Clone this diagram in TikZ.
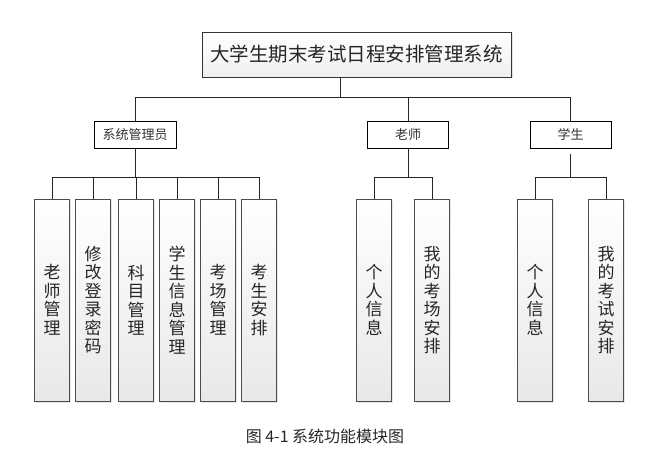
\documentclass[tikz,border=0pt]{standalone}
\usepackage{fontspec}
\newfontfamily\cjk{Noto Sans CJK SC}
\usetikzlibrary{shadows}

\tikzset{
  topbox/.style={draw=black!80, line width=0.8pt, top color=white, bottom color=gray!12,
    drop shadow={shadow xshift=1.5pt, shadow yshift=-1.5pt, fill=gray!45},
    minimum width=309pt, minimum height=45pt, inner sep=0pt,
    font=\cjk\fontsize{19.5}{22}\selectfont, text=black!85},
  rolebox/.style={draw=black, line width=0.7pt, fill=white,
    minimum width=81pt, minimum height=27pt, inner sep=0pt,
    font=\cjk\fontsize{13}{15}\selectfont, text=black!80},
  leafbox/.style={draw=black!70, line width=0.8pt, top color=white, bottom color=gray!18,
    drop shadow={shadow xshift=1.5pt, shadow yshift=-1.5pt, fill=gray!40},
    minimum width=35pt, minimum height=202pt, inner sep=0pt, align=center,
    font=\cjk\fontsize{17}{18.5}\selectfont, text=black!85},
  wire/.style={draw=black!85, line width=0.8pt}
}

\begin{document}
\begin{tikzpicture}[x=1pt, y=-1pt]
    \useasboundingbox (0,0) rectangle (654,460);

    % Top
    \node[topbox] (sys) at (356.5,54.5) {大学生期末考试日程安排管理系统};

    % Roles
    \node[rolebox, minimum width=82pt] (admin) at (135,134.5) {系统管理员};
    \node[rolebox] (teacher) at (408,134.5) {老师};
    \node[rolebox] (student) at (570.5,134.5) {学生};

    % Leaves: admin
    \node[leafbox] (a1) at (52,300)  {老\\师\\管\\理};
    \node[leafbox] (a2) at (93,300)  {修\\改\\登\\录\\密\\码};
    \node[leafbox] (a3) at (136,300) {科\\目\\管\\理};
    \node[leafbox] (a4) at (177,300) {学\\生\\信\\息\\管\\理};
    \node[leafbox] (a5) at (218,300) {考\\场\\管\\理};
    \node[leafbox] (a6) at (259,300) {考\\生\\安\\排};

    % Leaves: teacher
    \node[leafbox] (t1) at (374,300) {个\\人\\信\\息};
    \node[leafbox] (t2) at (432,300) {我\\的\\考\\场\\安\\排};

    % Leaves: student
    \node[leafbox] (s1) at (535,300) {个\\人\\信\\息};
    \node[leafbox] (s2) at (606,300) {我\\的\\考\\试\\安\\排};

    % Junctions
    \coordinate (j0) at (340,97);
    \coordinate (j1) at (135,177);
    \coordinate (j2) at (408,177);
    \coordinate (j3) at (570.5,177);

    % Edges
    \draw[wire] (sys.south -| j0) -- (j0);
    \draw[wire] (j0) -| (admin.north);
    \draw[wire] (j0) -| (teacher.north);
    \draw[wire] (j0) -| (student.north);

    \draw[wire] (admin.south) -- (j1);
    \foreach \n in {a1,a2,a3,a4,a5,a6}
      \draw[wire] (j1) -| (\n.north);

    \draw[wire] (teacher.south) -- (j2);
    \foreach \n in {t1,t2}
      \draw[wire] (j2) -| (\n.north);

    \draw[wire, shorten <=6pt] (student.south) -- (j3);
    \foreach \n in {s1,s2}
      \draw[wire] (j3) -| (\n.north);

    % Caption
    \node[font=\cjk\fontsize{16}{18}\selectfont, text=black!85] (cap) at (325,436) {图 4-1 系统功能模块图};
\end{tikzpicture}
\end{document}
